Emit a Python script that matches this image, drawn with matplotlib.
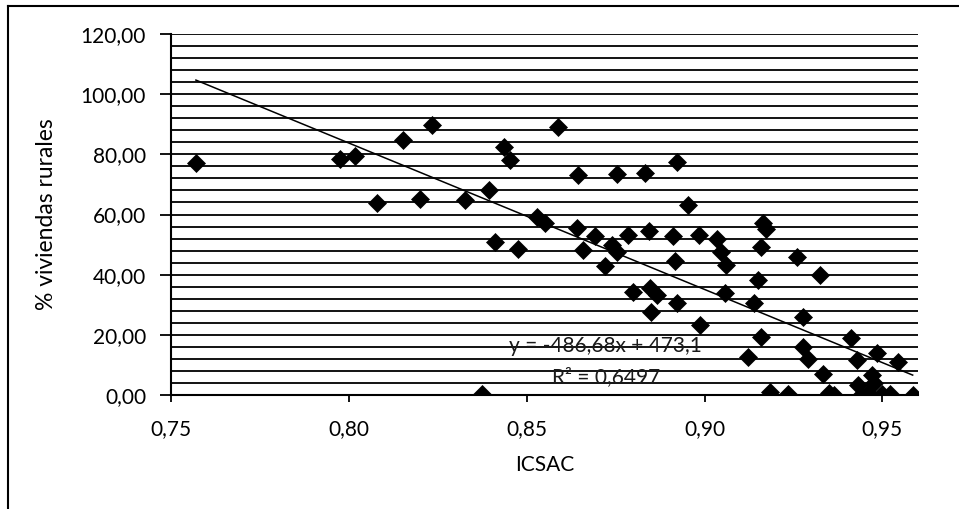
import matplotlib
matplotlib.use("Agg")
import matplotlib.pyplot as plt
from matplotlib.lines import Line2D
from matplotlib.ticker import MultipleLocator, FuncFormatter
import numpy as np

plt.rcParams['font.family'] = ['Lato', 'DejaVu Sans']

# ICSAC vs % viviendas rurales
icsac = [0.757, 0.7975, 0.8017, 0.8080, 0.8152, 0.8200, 0.8233, 0.8326, 0.8374, 0.8393,
         0.8410, 0.8436, 0.8453, 0.8475, 0.8528, 0.8550, 0.8587, 0.8640, 0.8644, 0.8658,
         0.8691, 0.8720, 0.8739, 0.8753, 0.8754, 0.8786, 0.8799, 0.8832, 0.8843, 0.8846,
         0.8848, 0.8866, 0.8910, 0.8916, 0.8922, 0.8922, 0.8953, 0.8983, 0.8986, 0.9034,
         0.9045, 0.9058, 0.9059, 0.9121, 0.9140, 0.9149, 0.9160, 0.9160, 0.9163, 0.9174,
         0.9183, 0.9234, 0.9259, 0.9278, 0.9278, 0.9290, 0.9324, 0.9332, 0.9350, 0.9365,
         0.9413, 0.9428, 0.9430, 0.9440, 0.9460, 0.9470, 0.9475, 0.9484, 0.9500, 0.9520,
         0.9543, 0.9585]
rurales = [77.1, 78.4, 79.4, 63.8, 84.7, 65.1, 89.7, 64.8, 0.3, 68.1,
           50.8, 82.4, 78.1, 48.5, 59.1, 57.1, 89.0, 55.5, 73.1, 48.2,
           52.8, 42.9, 49.8, 47.5, 73.4, 53.2, 34.2, 73.8, 54.5, 35.5,
           27.6, 33.2, 52.8, 44.5, 77.4, 30.6, 63.1, 53.2, 23.3, 51.8,
           47.5, 33.9, 43.2, 12.6, 30.6, 38.2, 49.2, 19.3, 57.1, 55.1,
           1.0, 0.3, 45.8, 25.9, 15.9, 12.0, 39.9, 7.0, 0.7, 0.0,
           18.9, 11.6, 3.3, 0.0, 0.5, 6.6, 4.0, 14.0, 0.3, 0.3,
           11.0, 0.0]

# linear trendline shown on the chart
slope = -486.68
intercept = 473.1
r2 = 0.6497

fig = plt.figure(figsize=(9.59, 5.09), dpi=100)
ax = fig.add_axes([171/959, 1 - 395/509, (918-171)/959, (395-34)/509])

# outer chart frame (only left and top visible in the scan)
fig.add_artist(Line2D([8/959, 8/959], [0, 1 - 6/509], color='black', lw=1.5))
fig.add_artist(Line2D([8/959, 1], [1 - 6/509, 1 - 6/509], color='black', lw=1.5))

ax.set_xlim(0.75, 0.96)
ax.set_ylim(0, 120)
ax.yaxis.set_major_locator(MultipleLocator(20))
ax.yaxis.set_minor_locator(MultipleLocator(4))
ax.xaxis.set_major_locator(MultipleLocator(0.05))
ax.yaxis.set_major_formatter(FuncFormatter(lambda v, p: f"{v:.2f}".replace('.', ',')))
ax.xaxis.set_major_formatter(FuncFormatter(lambda v, p: f"{v:.2f}".replace('.', ',')))

ax.grid(True, which='both', axis='y', color='black', lw=1.3)
ax.set_axisbelow(True)
for s in ['top', 'right']:
    ax.spines[s].set_visible(False)
ax.spines['left'].set_linewidth(1.5)
ax.spines['bottom'].set_linewidth(1.5)

ax.tick_params(axis='y', which='major', direction='out', length=8, width=1.3,
               pad=10, labelsize=15, colors='black')
ax.tick_params(axis='y', which='minor', length=0)
ax.tick_params(axis='x', direction='out', length=5, width=1.3, pad=12,
               labelsize=15, colors='black')

ax.plot(icsac, rurales, linestyle='none', marker='D', markersize=9,
        color='black', markeredgewidth=0.5, zorder=3)

xt = np.array([min(icsac), max(icsac)])
ax.plot(xt, slope * xt + intercept, color='black', lw=1.1, zorder=4)

eq = f"y = {slope:.2f}x + {intercept:.1f}".replace('.', ',')
ax.text(0.8722, 16.3, eq, ha='center', va='center', fontsize=15, color='#1a1a1a', zorder=5)
ax.text(0.8722, 5.8, f"R² = {r2:.4f}".replace('.', ','), ha='center', va='center',
        fontsize=15, color='#1a1a1a', zorder=5)

ax.set_ylabel('% viviendas rurales', fontsize=16.5, labelpad=17)
ax.set_xlabel('ICSAC', fontsize=15, labelpad=12)

fig.savefig('out.png', dpi=100)
